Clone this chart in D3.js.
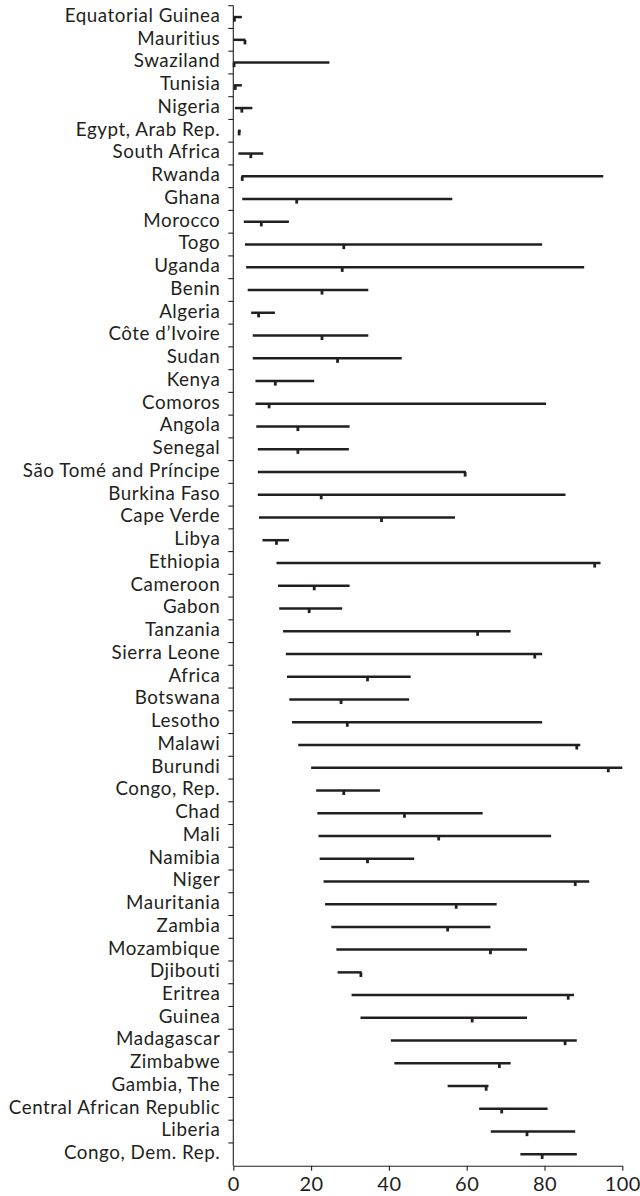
<!DOCTYPE html>
<html>
<head>
<meta charset="utf-8">
<script src="https://cdn.jsdelivr.net/npm/d3@7"></script>
<style>
  html, body { margin: 0; padding: 0; background: #fff; }
  svg { display: block; }
  .lbl { font-family: Lato, "Open Sans", sans-serif; fill: #231f20; }
</style>
</head>
<body>
<svg id="chart" width="640" height="1196"></svg>
<script>
// Countries, top to bottom
const countries = [
  "Equatorial Guinea", "Mauritius", "Swaziland", "Tunisia", "Nigeria",
  "Egypt, Arab Rep.", "South Africa", "Rwanda", "Ghana", "Morocco",
  "Togo", "Uganda", "Benin", "Algeria", "Côte d’Ivoire",
  "Sudan", "Kenya", "Comoros", "Angola", "Senegal",
  "São Tomé and Príncipe", "Burkina Faso", "Cape Verde", "Libya", "Ethiopia",
  "Cameroon", "Gabon", "Tanzania", "Sierra Leone", "Africa",
  "Botswana", "Lesotho", "Malawi", "Burundi", "Congo, Rep.",
  "Chad", "Mali", "Namibia", "Niger", "Mauritania",
  "Zambia", "Mozambique", "Djibouti", "Eritrea", "Guinea",
  "Madagascar", "Zimbabwe", "Gambia, The", "Central African Republic", "Liberia",
  "Congo, Dem. Rep."
];
// Lower end of each range
const lowValues = [
  0.0, 0.0, 0.0, 0.2, 0.4,
  1.2, 1.3, 2.1, 2.3, 2.7,
  3.0, 3.3, 3.7, 4.6, 5.0,
  5.0, 5.7, 5.7, 5.9, 6.3,
  6.3, 6.3, 6.6, 7.5, 11.1,
  11.5, 11.8, 12.8, 13.5, 13.8,
  14.4, 15.1, 16.7, 20.0, 21.3,
  21.6, 21.9, 22.2, 23.2, 23.6,
  25.2, 26.5, 26.8, 30.4, 32.7,
  40.5, 41.4, 55.1, 63.2, 66.2,
  73.8
];
// Upper end of each range
const highValues = [
  2.2, 3.1, 24.7, 2.2, 4.9,
  1.9, 7.7, 95.1, 56.3, 14.3,
  79.4, 90.2, 34.7, 10.7, 34.7,
  43.3, 20.8, 80.4, 29.9, 29.7,
  59.8, 85.4, 57.0, 14.3, 94.4,
  29.9, 28.0, 71.3, 79.4, 45.6,
  45.2, 79.4, 89.2, 100.0, 37.7,
  64.1, 81.7, 46.5, 91.5, 67.7,
  66.1, 75.5, 33.0, 87.6, 75.5,
  88.3, 71.3, 65.6, 80.8, 87.9,
  88.3
];
// Marked value within each range
const markValues = [
  0.3, 3.0, 0.2, 0.5, 2.2,
  1.5, 4.5, 2.3, 16.3, 7.2,
  28.4, 28.0, 22.8, 6.5, 22.8,
  26.8, 10.8, 9.2, 16.6, 16.6,
  59.6, 22.6, 38.1, 11.1, 92.9,
  20.8, 19.5, 62.8, 77.5, 34.5,
  27.7, 29.3, 88.3, 96.4, 28.4,
  44.0, 52.8, 34.5, 87.9, 57.3,
  55.1, 66.1, 32.8, 86.1, 61.4,
  85.3, 68.4, 65.0, 69.0, 75.5,
  79.4
];
const xTicks = [0, 20, 40, 60, 80, 100];

const rows = countries.map((name, i) => ({
  name, low: lowValues[i], high: highValues[i], mark: markValues[i]
}));

const ink = "#231f20";
const svg = d3.select("#chart");

const x = d3.scaleLinear().domain([0, 100]).range([233.3, 622.3]);
const y = d3.scaleBand().domain(countries).range([5.7, 1165.7]).padding(0);
const cy = d => y(d.name) + y.bandwidth() / 2;

// y axis: vertical rule with ticks at band boundaries
const g = svg.append("g");
g.append("line")
  .attr("x1", x(0)).attr("x2", x(0))
  .attr("y1", y.range()[0]).attr("y2", y.range()[1])
  .attr("stroke", ink).attr("stroke-width", 1.1);
g.selectAll("line.ytick").data(countries.map(c => y(c))).join("line")
  .attr("class", "ytick")
  .attr("x1", x(0) - 5).attr("x2", x(0))
  .attr("y1", d => d).attr("y2", d => d)
  .attr("stroke", ink).attr("stroke-width", 1.1);

// category labels
g.selectAll("text.cat").data(rows).join("text")
  .attr("class", "lbl cat")
  .attr("x", x(0) - 13)
  .attr("y", cy)
  .attr("dy", "0.26em")
  .attr("text-anchor", "end")
  .attr("font-size", 18.8)
  .attr("letter-spacing", 0.55)
  .text(d => d.name);

// x axis
const xAxis = d3.axisBottom(x).tickValues(xTicks).tickSize(5).tickSizeOuter(0).tickFormat(d3.format("d"));
const ax = svg.append("g")
  .attr("transform", `translate(0,${y.range()[1]})`)
  .call(xAxis);
ax.select(".domain").attr("stroke", ink).attr("stroke-width", 1.1);
ax.selectAll(".tick line").attr("stroke", ink).attr("stroke-width", 1.1);
ax.selectAll(".tick text")
  .attr("class", "lbl")
  .attr("font-size", 20)
  .attr("letter-spacing", 0.5)
  .attr("y", 25.5)
  .attr("dy", 0);

// range lines
svg.append("g").selectAll("line.range").data(rows).join("line")
  .attr("class", "range")
  .attr("x1", d => x(d.low)).attr("x2", d => x(d.high))
  .attr("y1", cy).attr("y2", cy)
  .attr("stroke", ink).attr("stroke-width", 2.5);

// marked values: small downward ticks
svg.append("g").selectAll("rect.mark").data(rows).join("rect")
  .attr("class", "mark")
  .attr("x", d => x(d.mark) - 1.4)
  .attr("y", cy)
  .attr("width", 2.8)
  .attr("height", 4.6)
  .attr("fill", ink);
</script>
</body>
</html>
